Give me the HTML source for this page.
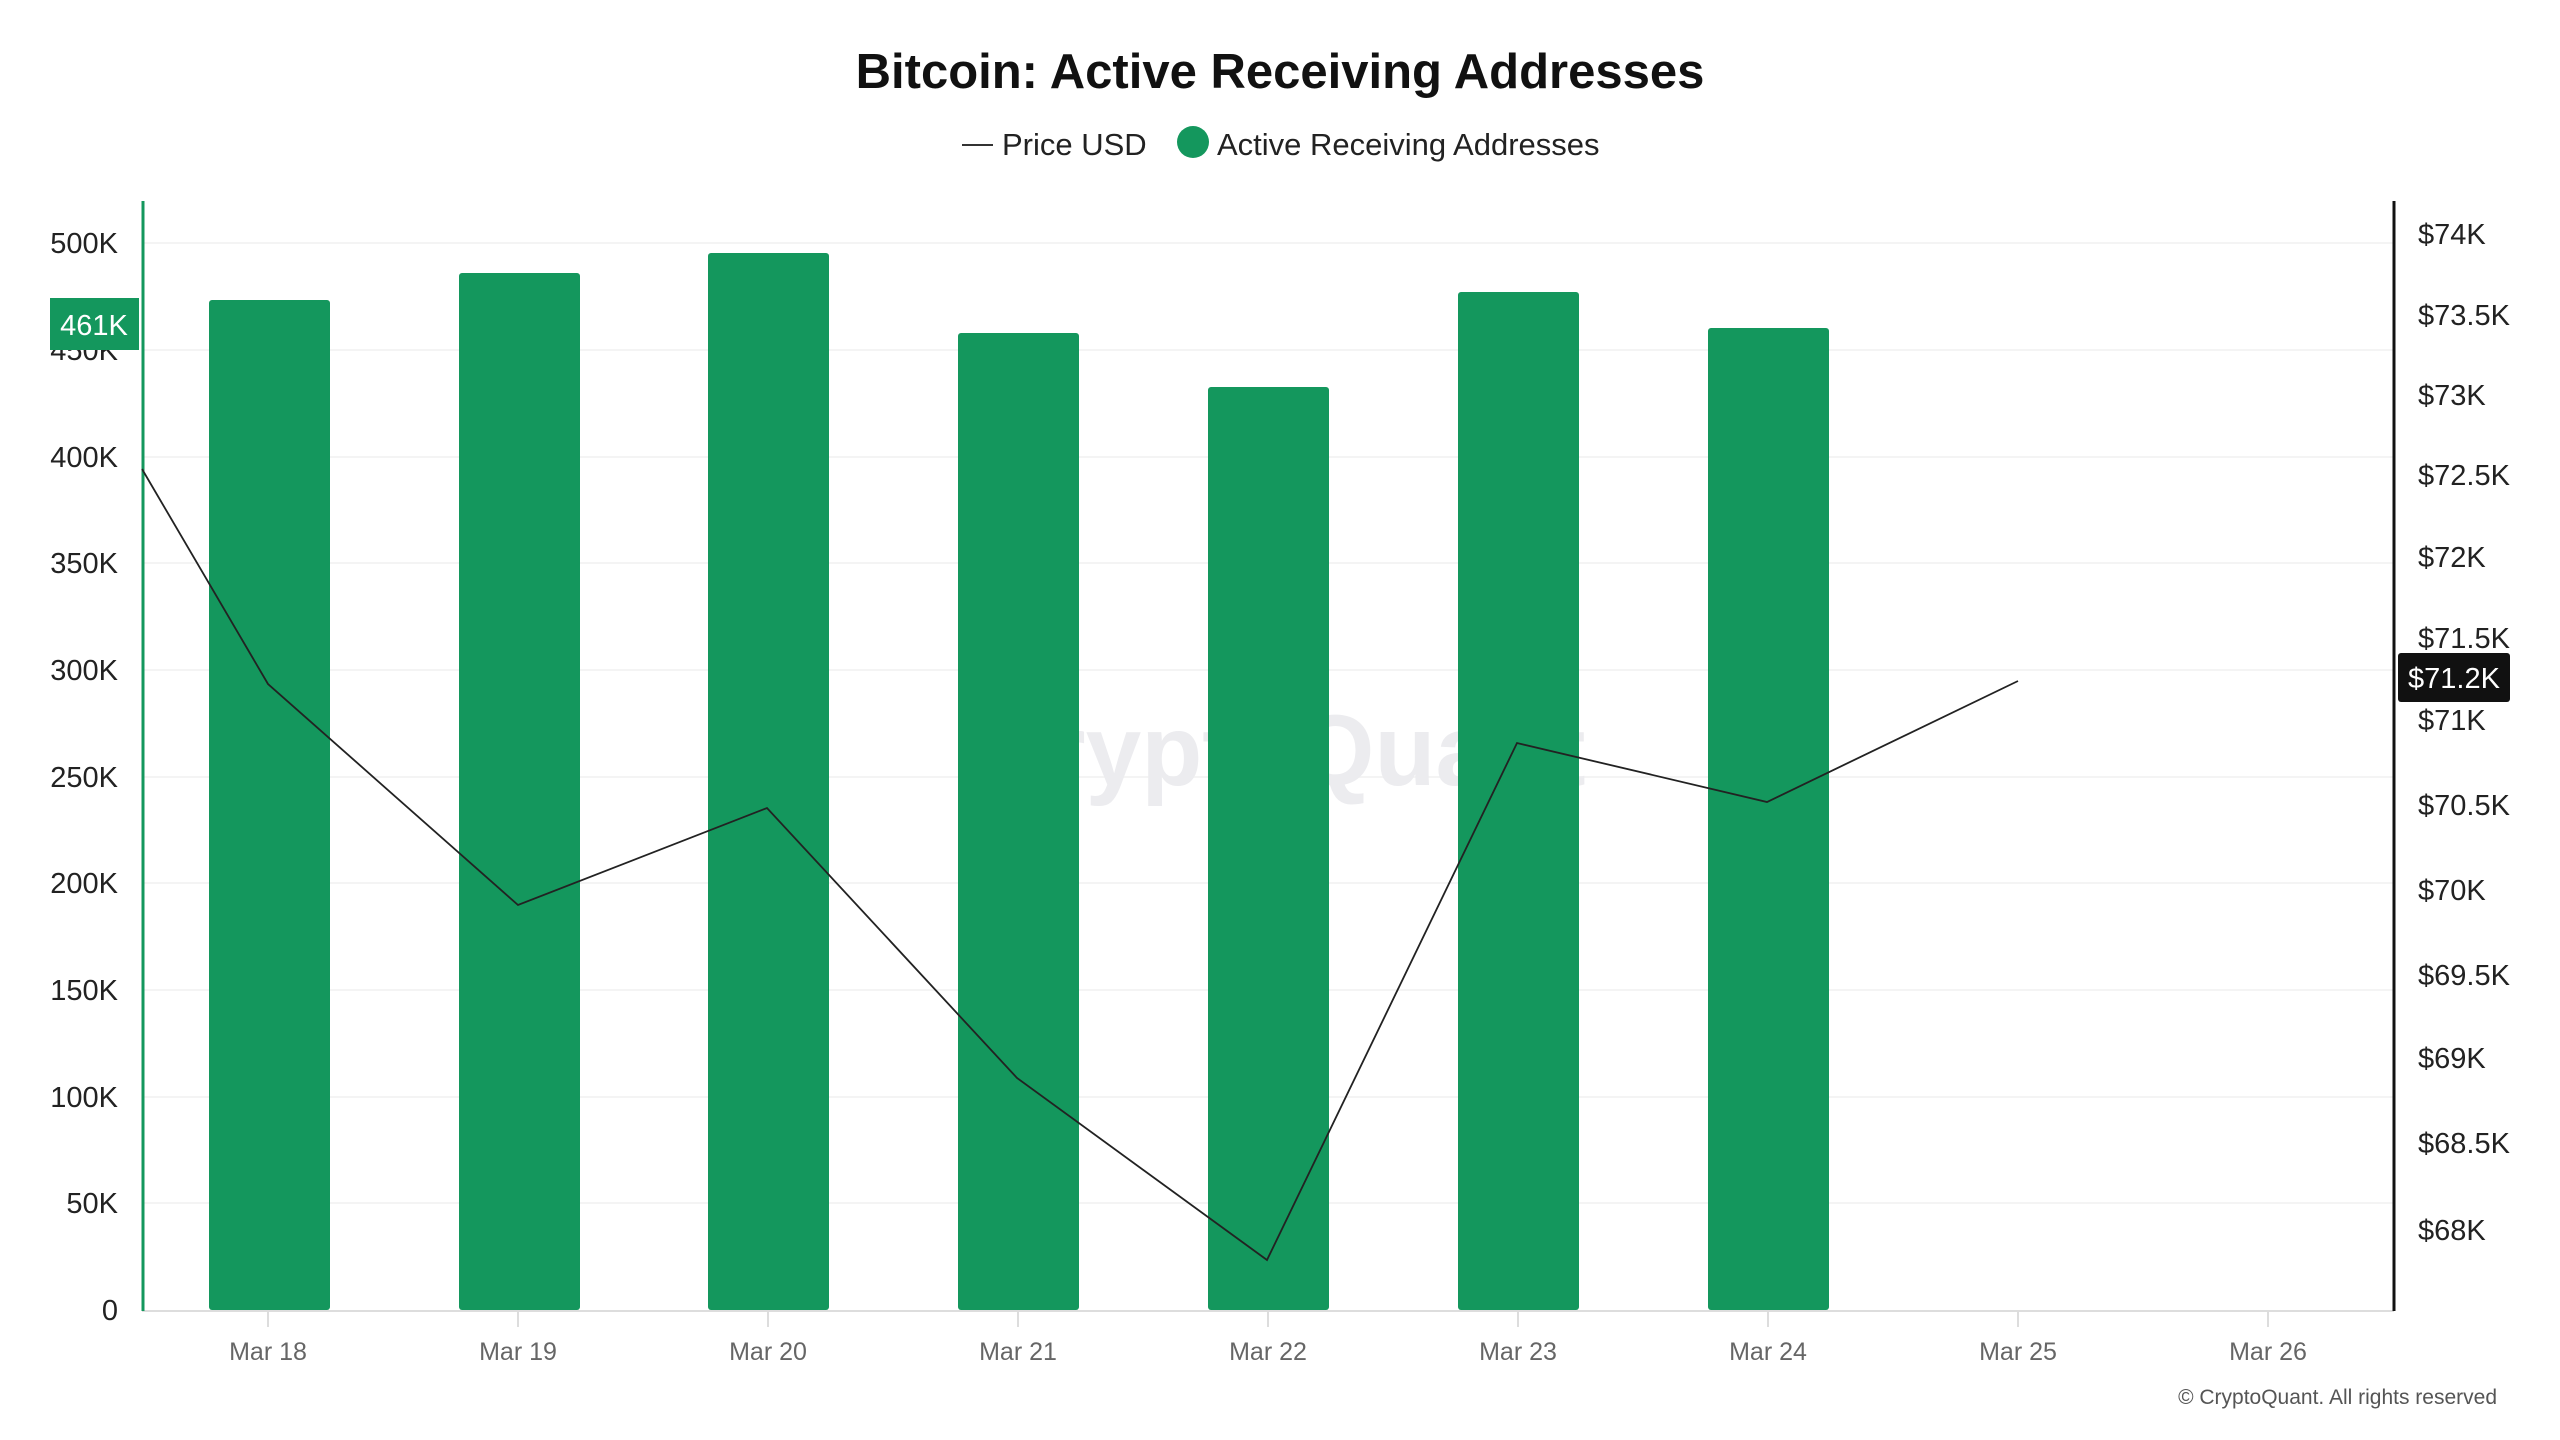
<!DOCTYPE html>
<html><head><meta charset="utf-8"><style>
html,body{margin:0;padding:0;background:#fff}
svg{display:block}
text{font-family:"Liberation Sans",sans-serif}
</style></head><body>
<svg width="2560" height="1440" viewBox="0 0 2560 1440" xmlns="http://www.w3.org/2000/svg">
<rect width="2560" height="1440" fill="#fff"/>
<text x="1280" y="88" text-anchor="middle" font-size="49" font-weight="bold" fill="#111">Bitcoin: Active Receiving Addresses</text>
<line x1="962" y1="145" x2="993" y2="145" stroke="#333" stroke-width="2"/>
<text x="1002" y="155" font-size="31" fill="#222">Price USD</text>
<circle cx="1193" cy="142" r="16" fill="#14975d"/>
<text x="1217" y="155" font-size="31" fill="#222">Active Receiving Addresses</text>
<g stroke="#f4f4f4" stroke-width="2">
<line x1="142" y1="243" x2="2394" y2="243"/><line x1="142" y1="350" x2="2394" y2="350"/>
<line x1="142" y1="457" x2="2394" y2="457"/><line x1="142" y1="563" x2="2394" y2="563"/>
<line x1="142" y1="670" x2="2394" y2="670"/><line x1="142" y1="777" x2="2394" y2="777"/>
<line x1="142" y1="883" x2="2394" y2="883"/><line x1="142" y1="990" x2="2394" y2="990"/>
<line x1="142" y1="1097" x2="2394" y2="1097"/><line x1="142" y1="1203" x2="2394" y2="1203"/>
</g>
<text x="1280" y="785" text-anchor="middle" font-size="100" font-weight="bold" fill="#ececef">CryptoQuant</text>
<g fill="#14975d">
<rect x="209" y="300" width="121" height="1010" rx="3"/>
<rect x="459" y="273" width="121" height="1037" rx="3"/>
<rect x="708" y="253" width="121" height="1057" rx="3"/>
<rect x="958" y="333" width="121" height="977" rx="3"/>
<rect x="1208" y="387" width="121" height="923" rx="3"/>
<rect x="1458" y="292" width="121" height="1018" rx="3"/>
<rect x="1708" y="328" width="121" height="982" rx="3"/>
</g>
<line x1="142" y1="1311" x2="2394" y2="1311" stroke="#ddd" stroke-width="2"/>
<g stroke="#ddd" stroke-width="2">
<line x1="268" y1="1311" x2="268" y2="1327"/><line x1="518" y1="1311" x2="518" y2="1327"/>
<line x1="768" y1="1311" x2="768" y2="1327"/><line x1="1018" y1="1311" x2="1018" y2="1327"/>
<line x1="1268" y1="1311" x2="1268" y2="1327"/><line x1="1518" y1="1311" x2="1518" y2="1327"/>
<line x1="1768" y1="1311" x2="1768" y2="1327"/><line x1="2018" y1="1311" x2="2018" y2="1327"/>
<line x1="2268" y1="1311" x2="2268" y2="1327"/>
</g>
<line x1="143" y1="201" x2="143" y2="1311" stroke="#14975d" stroke-width="3"/>
<line x1="2394" y1="201" x2="2394" y2="1311" stroke="#111" stroke-width="3"/>
<polyline points="142,469 268,684 518,905 767,808 1017,1078 1267,1260 1517,743 1767,802 2018,681" fill="none" stroke="#222" stroke-width="1.8"/>
<g font-size="29" fill="#222" text-anchor="end">
<text x="118" y="253">500K</text><text x="118" y="360">450K</text>
<text x="118" y="467">400K</text><text x="118" y="573">350K</text>
<text x="118" y="680">300K</text><text x="118" y="787">250K</text>
<text x="118" y="893">200K</text><text x="118" y="1000">150K</text>
<text x="118" y="1107">100K</text><text x="118" y="1213">50K</text>
<text x="118" y="1320">0</text>
</g>
<rect x="50" y="298" width="89" height="52" fill="#14975d"/>
<text x="94" y="335" text-anchor="middle" font-size="29" fill="#fff">461K</text>
<g font-size="29" fill="#222">
<text x="2418" y="244">$74K</text><text x="2418" y="325">$73.5K</text>
<text x="2418" y="405">$73K</text><text x="2418" y="485">$72.5K</text>
<text x="2418" y="567">$72K</text><text x="2418" y="648">$71.5K</text>
<text x="2418" y="730">$71K</text><text x="2418" y="815">$70.5K</text>
<text x="2418" y="900">$70K</text><text x="2418" y="985">$69.5K</text>
<text x="2418" y="1068">$69K</text><text x="2418" y="1153">$68.5K</text>
<text x="2418" y="1240">$68K</text>
</g>
<rect x="2398" y="653" width="112" height="49" rx="3" fill="#111"/>
<text x="2454" y="688" text-anchor="middle" font-size="29" fill="#fff">$71.2K</text>
<g font-size="25" fill="#666" text-anchor="middle">
<text x="268" y="1360">Mar 18</text><text x="518" y="1360">Mar 19</text>
<text x="768" y="1360">Mar 20</text><text x="1018" y="1360">Mar 21</text>
<text x="1268" y="1360">Mar 22</text><text x="1518" y="1360">Mar 23</text>
<text x="1768" y="1360">Mar 24</text><text x="2018" y="1360">Mar 25</text>
<text x="2268" y="1360">Mar 26</text>
</g>
<text x="2497" y="1404" text-anchor="end" font-size="21" fill="#555">© CryptoQuant. All rights reserved</text>
</svg>
</body></html>
